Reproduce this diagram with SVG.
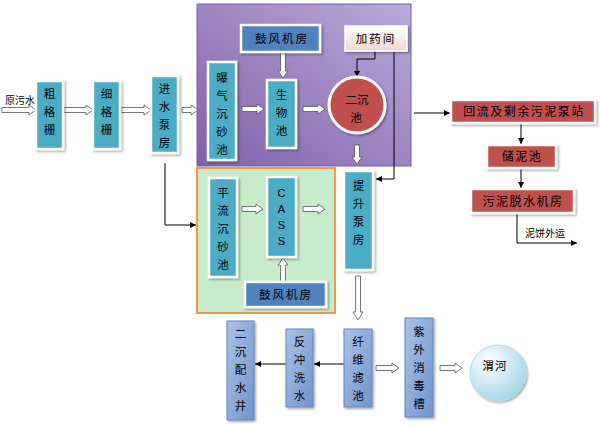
<svg xmlns="http://www.w3.org/2000/svg" width="600" height="426" viewBox="0 0 600 426">
<defs>
<linearGradient id="gPur" x1="1" y1="0" x2="0" y2="1">
<stop offset="0" stop-color="#b9aad8"/>
<stop offset="1" stop-color="#8160ab"/>
</linearGradient>
<linearGradient id="gPeri" x1="0" y1="0" x2="1" y2="1">
<stop offset="0" stop-color="#aac2e6"/>
<stop offset="1" stop-color="#7194cc"/>
</linearGradient>
<linearGradient id="gPink" x1="0" y1="0" x2="0" y2="1">
<stop offset="0" stop-color="#ffffff"/>
<stop offset="1" stop-color="#f2d6d5"/>
</linearGradient>
<radialGradient id="gRiver" cx="0.35" cy="0.3" r="0.75">
<stop offset="0" stop-color="#ffffff"/>
<stop offset="1" stop-color="#a3d5e8"/>
</radialGradient>
<filter id="sh" x="-20%" y="-20%" width="150%" height="150%">
<feDropShadow dx="1.5" dy="1.5" stdDeviation="1" flood-color="#000" flood-opacity="0.35"/>
</filter>
<marker id="ah" viewBox="0 0 10 10" refX="10" refY="5" markerWidth="6" markerHeight="6" orient="auto" markerUnits="userSpaceOnUse">
<path d="M0,0 L10,5 L0,10 Z" fill="#000"/>
</marker>
<style>
.teal{fill:#4bacc6;stroke:#fff;stroke-width:2.5;filter:url(#sh)}
.blue{fill:#4f81bd;stroke:#fff;stroke-width:2.5;filter:url(#sh)}
.red{fill:#c0504d;stroke:#fff;stroke-width:2.5;filter:url(#sh)}
.pink{fill:url(#gPink);stroke:#fff;stroke-width:1.5;filter:url(#sh)}
.peri{fill:url(#gPeri);stroke:#6386c0;stroke-width:1;filter:url(#sh)}
.t{font-family:"Noto Sans CJK SC","Noto Sans CJK JP",sans-serif;font-size:11.5px;fill:#000;text-anchor:middle}
.h{font-family:"Noto Sans CJK SC","Noto Sans CJK JP",sans-serif;font-size:12px;fill:#000;text-anchor:middle;letter-spacing:1.5px}
.s{font-family:"Noto Sans CJK SC","Noto Sans CJK JP",sans-serif;font-size:10px;fill:#000}
.c{font-family:"Liberation Sans",Arial,sans-serif;font-size:11px;fill:#000;text-anchor:middle}
.ha{fill:#fff;stroke:#555;stroke-width:0.8}
.ln{fill:none;stroke:#000;stroke-width:1;marker-end:url(#ah)}
</style>
</defs>
<rect width="600" height="426" fill="#fff"/>

<g id="zone-purple">
<rect x="197" y="4" width="214" height="162" fill="url(#gPur)" stroke="#7b5ca6" stroke-width="1"/>
</g>
<g id="zone-green">
<rect x="197" y="168" width="138" height="145" fill="#c8ecca" stroke="#f79646" stroke-width="2"/>
</g>

<g id="connectors">
<path class="ha" d="M2,107.5 H29 V105 L36,110 L29,115 V112.5 H2 Z"/>
<path class="ha" d="M64,107.5 H86 V105 L93,110 L86,115 V112.5 H64 Z"/>
<path class="ha" d="M121,107.5 H144 V105 L151,110 L144,115 V112.5 H121 Z"/>
<path class="ha" d="M182,107.5 H191 V105 L198,110 L191,115 V112.5 H182 Z"/>
<path class="ha" d="M242,106.5 H257 V104 L264,109 L257,114 V111.5 H242 Z"/>
<path class="ha" d="M303,106.5 H318 V104 L325,109 L318,114 V111.5 H303 Z"/>
<path class="ha" d="M280.5,53 V71 H278 L283,78 L288,71 H285.5 V53 Z"/>
<path class="ha" d="M354.5,145 V157 H352 L357,164 L362,157 H359.5 V145 Z"/>
<path class="ha" d="M242,206.5 H256 V204 L263,209 L256,214 V211.5 H242 Z"/>
<path class="ha" d="M303,206.5 H318 V204 L325,209 L318,214 V211.5 H303 Z"/>
<path class="ha" d="M280.5,282 V265 H278 L283,258 L288,265 H285.5 V282 Z"/>
<path class="ha" d="M355.5,276 V312 H353 L358,320 L363,312 H360.5 V276 Z"/>
<path class="ha" d="M376,365.5 H392 V363 L399,368 L392,373 V370.5 H376 Z"/>
<path class="ha" d="M440,365.5 H455 V363 L462,368 L455,373 V370.5 H440 Z"/>

<path class="ln" d="M165,163 V225 H196"/>
<path class="ln" d="M375,51 V59 H357 V77"/>
<path class="ln" d="M394,52 V179 H376"/>
<path class="ln" d="M414,113 H450"/>
<path class="ln" d="M521,123 V144"/>
<path class="ln" d="M521,168 V188"/>
<path class="ln" d="M517,213 V243 H577"/>
<path class="ln" d="M344,364 H314"/>
<path class="ln" d="M286,364 H255"/>
</g>

<g id="label-raw"><text class="s" x="5" y="104">原污水</text></g>

<g id="n-cugeshan">
<rect class="teal" x="36" y="81" width="27" height="68"/>
<text class="t"><tspan x="49.5" y="98">粗</tspan><tspan x="49.5" y="116">格</tspan><tspan x="49.5" y="134">栅</tspan></text>
</g>
<g id="n-xigeshan">
<rect class="teal" x="93" y="81" width="27" height="68"/>
<text class="t"><tspan x="106.5" y="98">细</tspan><tspan x="106.5" y="116">格</tspan><tspan x="106.5" y="134">栅</tspan></text>
</g>
<g id="n-jinshui">
<rect class="teal" x="151" y="76" width="27" height="77"/>
<text class="t"><tspan x="164.5" y="93">进</tspan><tspan x="164.5" y="111">水</tspan><tspan x="164.5" y="129">泵</tspan><tspan x="164.5" y="147">房</tspan></text>
</g>
<g id="n-puqi">
<rect class="teal" x="208" y="62" width="28" height="98"/>
<text class="t"><tspan x="222" y="82">曝</tspan><tspan x="222" y="100">气</tspan><tspan x="222" y="118">沉</tspan><tspan x="222" y="136">砂</tspan><tspan x="222" y="154">池</tspan></text>
</g>
<g id="n-gufeng1">
<rect class="blue" x="241" y="25" width="79" height="27"/>
<text class="t" x="282" y="43" style="letter-spacing:2px">鼓风机房</text>
</g>
<g id="n-shengwu">
<rect class="teal" x="267" y="80" width="29" height="68"/>
<text class="t"><tspan x="281.5" y="99">生</tspan><tspan x="281.5" y="117">物</tspan><tspan x="281.5" y="135">池</tspan></text>
</g>
<g id="n-erchen">
<circle class="red" cx="357" cy="105" r="28" style="stroke-width:3"/>
<text class="t" x="357" y="104">二沉</text>
<text class="t" x="356" y="122">池</text>
</g>
<g id="n-jiayao">
<rect class="pink" x="345" y="26" width="62" height="25"/>
<text class="t" x="376" y="43" style="letter-spacing:2px">加药间</text>
</g>
<g id="n-huiliu">
<rect class="red" x="451" y="100" width="144" height="23"/>
<text class="h" x="524" y="116">回流及剩余污泥泵站</text>
</g>
<g id="n-chuni">
<rect class="red" x="487" y="145" width="69" height="23"/>
<text class="h" x="522" y="161">储泥池</text>
</g>
<g id="n-tuoshui">
<rect class="red" x="471" y="189" width="103" height="24"/>
<text class="h" x="523" y="206">污泥脱水机房</text>
</g>
<g id="label-cake"><text class="s" x="525" y="237">泥饼外运</text></g>

<g id="n-pingliu">
<rect class="teal" x="209" y="178" width="28" height="99"/>
<text class="t"><tspan x="223" y="197">平</tspan><tspan x="223" y="215">流</tspan><tspan x="223" y="233">沉</tspan><tspan x="223" y="251">砂</tspan><tspan x="223" y="269">池</tspan></text>
</g>
<g id="n-cass">
<rect class="teal" x="267" y="177" width="29" height="80"/>
<text class="c"><tspan x="281.5" y="197">C</tspan><tspan x="281.5" y="213">A</tspan><tspan x="281.5" y="229">S</tspan><tspan x="281.5" y="245">S</tspan></text>
</g>
<g id="n-gufeng2">
<rect class="blue" x="245" y="282" width="81" height="25"/>
<text class="t" x="286" y="299" style="letter-spacing:2px">鼓风机房</text>
</g>
<g id="n-tisheng">
<rect class="teal" x="344" y="171" width="29" height="99"/>
<text class="t"><tspan x="358.5" y="190">提</tspan><tspan x="358.5" y="208">升</tspan><tspan x="358.5" y="226">泵</tspan><tspan x="358.5" y="244">房</tspan></text>
</g>

<g id="n-peishui">
<rect class="peri" x="227" y="321" width="27" height="99"/>
<text class="t"><tspan x="240.5" y="338">二</tspan><tspan x="240.5" y="356">沉</tspan><tspan x="240.5" y="374">配</tspan><tspan x="240.5" y="392">水</tspan><tspan x="240.5" y="410">井</tspan></text>
</g>
<g id="n-fanchong">
<rect class="peri" x="286" y="329" width="27" height="78"/>
<text class="t"><tspan x="299.5" y="346">反</tspan><tspan x="299.5" y="364">冲</tspan><tspan x="299.5" y="382">洗</tspan><tspan x="299.5" y="400">水</tspan></text>
</g>
<g id="n-xianwei">
<rect class="peri" x="344" y="329" width="28" height="78"/>
<text class="t"><tspan x="358" y="346">纤</tspan><tspan x="358" y="364">维</tspan><tspan x="358" y="382">滤</tspan><tspan x="358" y="400">池</tspan></text>
</g>
<g id="n-ziwai">
<rect class="peri" x="405" y="318" width="28" height="99"/>
<text class="t"><tspan x="419" y="336">紫</tspan><tspan x="419" y="354">外</tspan><tspan x="419" y="372">消</tspan><tspan x="419" y="390">毒</tspan><tspan x="419" y="408">槽</tspan></text>
</g>
<g id="n-weihe">
<circle cx="498" cy="373" r="28" fill="url(#gRiver)" stroke="#b5dbe8" stroke-width="1" filter="url(#sh)"/>
<text class="t" x="495" y="370" style="letter-spacing:1px">渭河</text>
</g>
</svg>
